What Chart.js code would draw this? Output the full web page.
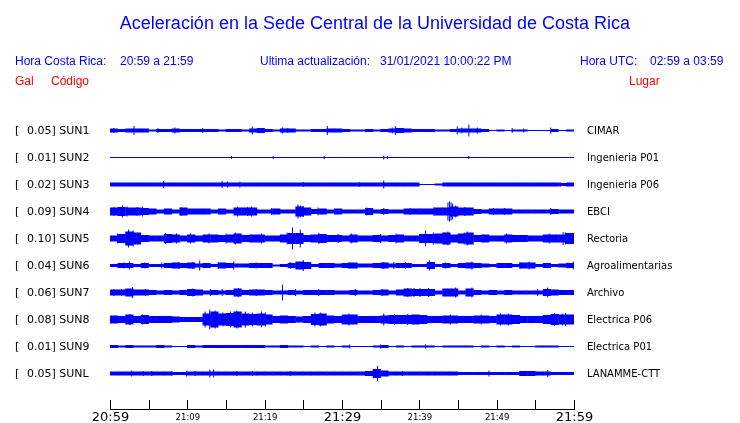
<!DOCTYPE html>
<html lang="es">
<head>
<meta charset="utf-8">
<title>Aceleración UCR</title>
<script src="https://cdn.jsdelivr.net/npm/chart.js@4.4.1/dist/chart.umd.min.js"></script>
<style>
    body { margin: 0; background: #fff; }
    #wrap { position: relative; width: 740px; height: 423px; font-family: "Liberation Sans", Arial, sans-serif; }
    #sismo { position: absolute; left: 0; top: 0; }
    .t { position: absolute; white-space: pre; line-height: 1; }
    .blue { color: #0000ff; font-size: 12px; }
    .red { color: #ff0000; font-size: 12px; }
</style>
</head>
<body>
<div id="wrap">
    <canvas id="sismo" width="740" height="423"></canvas>
    <div class="t" style="left:0;width:750px;text-align:center;top:14px;font-size:18px;color:#0000ff;">Aceleración en la Sede Central de la Universidad de Costa Rica</div>
    <div class="t blue" style="left:15px;top:55px;">Hora Costa Rica:</div>
    <div class="t blue" style="left:120px;top:55px;">20:59 a 21:59</div>
    <div class="t blue" style="left:260px;top:55px;">Ultima actualización:</div>
    <div class="t blue" style="left:380px;top:55px;">31/01/2021 10:00:22 PM</div>
    <div class="t blue" style="left:580px;top:55px;">Hora UTC:</div>
    <div class="t blue" style="left:650px;top:55px;">02:59 a 03:59</div>
    <div class="t red" style="left:15px;top:75px;">Gal</div>
    <div class="t red" style="left:51px;top:75px;">Código</div>
    <div class="t red" style="left:629px;top:75px;">Lugar</div>
</div>
<script>
// Stations (top to bottom)
const codes = ["SUN1", "SUN2", "SUN3", "SUN4", "SUN5", "SUN6", "SUN7", "SUN8", "SUN9", "SUNL"];
const places = ["CIMAR", "Ingenieria P01", "Ingenieria P06", "EBCI", "Rectoria", "Agroalimentarias",
    "Archivo", "Electrica P06", "Electrica P01", "LANAMME-CTT"];
const gal = ["0.05", "0.01", "0.02", "0.09", "0.10", "0.04", "0.06", "0.08", "0.01", "0.05"];

// Time axis: minutes after 20:59
const tickMinutes = [0, 5, 10, 15, 20, 25, 30, 35, 40, 45, 50, 55, 60];
const tickLabels = ["20:59", "", "21:09", "", "21:19", "", "21:29", "", "21:39", "", "21:49", "", "21:59"];
const bigLabels = ["20:59", "21:29", "21:59"];

// Envelope (half amplitude) of each trace, one value per minute
const sun1Band = [2, 1.5, 2, 2, 2, 1, 1.5, 1.5, 2, 1.5, 1.5, 1.5, 1.5, 1.5, 1, 1.5, 1.5, 1, 2, 2.5,
    1.5, 1, 2, 2, 1, 1, 1.5, 1.5, 2, 2, 1.5, 1, 1, 1.5, 1, 1.5, 2, 2.5, 2, 1.5,
    1.5, 1.5, 1, 1, 1.5, 2, 2, 2, 1.5, 0.5, 1, 0.5, 1, 1, 0.5, 0.5, 0.5, 1.5, 0.5, 1];
const sun2Band = [0.5, 0.5, 0.5, 0.5, 0.5, 0.5, 0.5, 0.5, 0.5, 0.5, 0.5, 0.5, 0.5, 0.5, 0.5, 0.5, 0.5, 0.5, 0.5, 0.5,
    0.5, 0.5, 0.5, 0.5, 0.5, 0.5, 0.5, 0.5, 0.5, 0.5, 0.5, 0.5, 0.5, 0.5, 0.5, 0.5, 0.5, 0.5, 0.5, 0.5,
    0.5, 0.5, 0.5, 0.5, 0.5, 0.5, 0.5, 0.5, 0.5, 0.5, 0.5, 0.5, 0.5, 0.5, 0.5, 0.5, 0.5, 0.5, 0.5, 0.5];
const sun3Band = [2, 2, 2, 2, 2, 2, 2, 2, 2, 2, 2, 2, 2, 2, 2, 2, 2, 2, 2, 2,
    2, 2, 2, 2, 2, 2, 2, 2, 2, 2, 2, 2, 2, 2, 2, 2, 2, 2, 2, 2,
    0.5, 0.5, 1, 2, 2, 2, 2, 2, 2, 2, 2, 2, 2, 2, 2, 2, 2, 2, 1.5, 2];
const sun4Band = [4, 4.5, 4, 4, 3.5, 3, 2, 3, 2, 4, 3, 3, 3, 2, 3, 2, 4, 4, 4, 2,
    2, 3, 2, 2, 5, 4, 2.5, 3, 2, 3, 2, 2, 2, 3.5, 2, 2.5, 2, 2, 3, 3,
    3, 3, 4, 4, 5, 4, 4, 2.5, 2, 3, 3, 3, 2, 2, 2, 2, 2, 2.5, 2, 2];
const sun5Band = [3, 4.5, 7, 6, 3.5, 3, 3, 4.5, 4, 3, 4, 3, 4, 4, 3.5, 4, 5, 3.5, 4, 4,
    3, 3, 4, 5.5, 5.5, 3.5, 4, 4.5, 3.5, 3.5, 3, 4, 3, 3, 3.5, 3, 3.5, 4, 3, 3,
    4.5, 4.5, 5, 6, 4, 5, 6, 3.5, 4, 3, 3, 4, 3.5, 3.5, 3, 3, 4, 4, 4, 5.5];
const sun6Band = [1.5, 2.5, 2.5, 1.5, 2.5, 1.5, 1.5, 2.5, 3, 2.5, 3, 2, 2.5, 1.5, 3, 2.5, 2, 2, 2.5, 2.5,
    2.5, 1, 1.5, 2.5, 4, 3.5, 1.5, 2.5, 2.5, 2, 2.5, 3, 2, 2, 2.5, 3, 2, 2.5, 2.5, 1.5,
    1.5, 3.5, 1.5, 2.5, 1.5, 2.5, 3, 2.5, 2, 1.5, 2.5, 2.5, 1.5, 3, 3, 1.5, 2.5, 1.5, 2, 2.5];
const sun7Band = [3, 3, 4, 3, 3, 2.5, 2, 2.5, 2, 2.5, 3.5, 3, 2, 2.5, 2, 2.5, 4, 2.5, 3, 3,
    2.5, 2, 2, 2.5, 2, 2.5, 2.5, 2.5, 2.5, 2, 2, 2.5, 2, 2, 2.5, 3, 2, 3, 4, 3.5,
    3.5, 3.5, 2, 4, 4, 2, 4, 2.5, 2, 2.5, 2, 2.5, 2, 2, 2, 2, 3.5, 3, 2.5, 2.5];
const sun8Band = [4, 3.5, 5, 3.5, 4.5, 3.5, 3.5, 3.5, 3, 2.5, 2.5, 2.5, 6, 8, 6, 6.5, 8, 6, 5.5, 6,
    5, 3.5, 4, 3.5, 3, 3.5, 5.5, 6, 4, 3.5, 5, 5, 3.5, 3.5, 3.5, 4, 4.5, 4.5, 4.5, 5,
    4.5, 3.5, 3.5, 4, 4, 3.5, 3.5, 4, 4, 3.5, 5, 5, 4.5, 3.5, 3.5, 3.5, 4.5, 5.5, 5, 5];
const sun9Band = [1.5, 1, 1.5, 1, 1, 1, 1.5, 1, 0.5, 0.5, 1.5, 1, 1.5, 1.5, 1.5, 1.5, 1.5, 1.5, 1.5, 1.5,
    1, 1, 1.5, 1, 1, 0.5, 1, 0.5, 1, 0.5, 1, 0.5, 0.5, 0.5, 1, 1.5, 0.5, 1, 0.5, 1,
    1, 1, 0.5, 1, 1, 1, 1, 0.5, 1, 0.5, 1, 0.5, 1, 0.5, 0.5, 1, 1, 1, 0.5, 0.5];
const sunlBand = [2, 2, 2, 2, 2, 2, 2, 2, 1.5, 1.5, 2, 2, 2, 2, 2, 2, 2, 2, 2, 2,
    2, 2, 2, 2, 2, 2, 2, 2, 2, 2, 2, 2, 2, 2.5, 4.5, 3, 2, 2, 2, 2,
    2, 2, 2, 2, 2, 1.5, 1.5, 1.5, 1.5, 1.5, 1.5, 1.5, 1.5, 2.5, 2.5, 2, 2, 1.5, 1.5, 1.5];

// Isolated peaks: [minute, half amplitude]
const sun1Spikes = [[0.5, 2.5], [3.1, 4.5], [6.2, 2.5], [8.4, 3], [12, 2.5], [18.4, 4], [22.3, 3], [23, 2.5],
    [28.1, 4.5], [36.5, 3], [36.9, 4.5], [44.9, 4], [45.5, 3], [46.4, 6], [47.5, 3], [52, 2.5], [53.5, 2], [57, 3]];
const sun2Spikes = [[15.7, 1.5], [21.1, 1.5], [27.7, 1.5], [35.4, 2], [35.9, 1.5], [46.4, 1.5]];
const sun3Spikes = [[6.9, 3.5], [14.5, 3.5], [15.2, 3], [16.8, 3], [25, 2.5], [32.3, 2.5], [35.4, 4], [58.2, 2.5]];
const sun4Spikes = [[0.5, 4.5], [1.6, 6], [2.2, 5], [3.5, 4.5], [4.2, 5], [9.2, 4.5], [16.5, 5], [17.8, 4.5],
    [18.3, 5], [20.9, 3.5], [24.3, 7], [24.6, 6], [25, 5.5], [26.9, 4], [33.2, 4], [35.4, 3.5], [38.8, 3.5],
    [41.9, 4.5], [43.7, 9], [43.9, 10], [44.1, 9], [44.3, 8], [44.7, 6], [45.9, 4.5], [49.6, 3.5], [51, 3.5], [57, 3.5]];
const sun5Spikes = [[1, 5], [2.4, 9], [3, 8], [7.2, 5.5], [8.6, 5], [10.4, 5], [12.8, 5], [15, 5], [16.2, 6],
    [19.6, 5], [22.9, 6], [23.6, 11], [24.6, 9], [27, 5.5], [29.5, 4.5], [31.2, 5], [35, 4.5], [37, 5],
    [40.8, 8], [41.8, 6], [43.2, 6], [43.7, 7], [45.8, 6], [46.2, 7], [51.3, 5], [56.8, 5], [58.6, 6.5], [58.9, 6]];
const sun6Spikes = [[1.8, 3], [2.5, 4], [4.5, 3], [6.7, 3], [8.9, 3.5], [10.7, 3.5], [11.6, 5], [14, 3.5], [16, 4],
    [18.9, 3], [23.3, 3.5], [25, 5.5], [30.9, 3.5], [35.4, 3.5], [36.7, 3.5], [38.2, 3.5], [41.3, 5], [43.4, 3],
    [46.8, 4], [53, 3.5], [54.2, 4], [59.2, 3], [59.9, 4]];
const sun7Spikes = [[0.5, 3.5], [1.5, 3.5], [2.9, 5.5], [4.6, 3.5], [10.7, 4], [13, 3.5], [14.5, 3.5], [16.6, 4.5],
    [18.9, 3.5], [22.3, 8], [24, 3.5], [27, 3.5], [31.7, 3.5], [35.2, 3.5], [38.5, 4.5], [39.3, 4.5], [40.1, 4.5],
    [41.2, 4.5], [44.7, 5], [46.8, 5], [55.3, 3.5], [56.6, 5]];
const sun8Spikes = [[2.6, 5.5], [4.2, 5], [12.3, 8], [12.9, 10], [13.6, 9], [14.6, 7], [15.6, 8], [16.4, 9], [17.5, 8],
    [18.4, 7], [19.6, 8], [20.1, 7], [26.5, 7], [27.2, 7], [30.9, 6], [35.4, 6], [36.8, 5.5], [38.5, 5.5], [44, 5],
    [48, 5], [50.5, 6], [51.5, 6], [57.5, 6.5], [58.5, 6], [58.9, 6.5]];
const sun9Spikes = [[31, 2], [35, 2], [40.8, 2]];
const sunlSpikes = [[2.8, 3], [4.3, 2.5], [5.4, 2.5], [8, 2.5], [9.9, 3], [11, 2.5], [12.9, 4], [13.4, 4], [16.4, 2.5],
    [18.4, 2.5], [23.3, 2.5], [34.6, 7.5], [37.8, 2.5], [49, 3], [53, 2.5], [56.6, 3.5]];

const bands = [sun1Band, sun2Band, sun3Band, sun4Band, sun5Band, sun6Band, sun7Band, sun8Band, sun9Band, sunlBand];
const spikes = [sun1Spikes, sun2Spikes, sun3Spikes, sun4Spikes, sun5Spikes, sun6Spikes, sun7Spikes, sun8Spikes, sun9Spikes, sunlSpikes];

const SLOT = 27; // vertical distance between traces
const TRACE = "#0000ff";

// Build datasets: envelope bars on axis x, narrow peaks on axis xs
const datasets = [];
codes.forEach((code, i) => {
    const mid = i * SLOT;
    datasets.push({
        label: code,
        data: bands[i].map((a, m) => ({ x: m + 0.5, y: [mid - a, mid + a] })),
        backgroundColor: TRACE,
        borderWidth: 0,
        grouped: false,
        categoryPercentage: 1,
        barPercentage: 1.06,
        inflateAmount: 0,
        xAxisID: "x",
    });
    datasets.push({
        label: code + " picos",
        data: spikes[i].map(([m, a]) => ({ x: m, y: [mid - a, mid + a] })),
        backgroundColor: TRACE,
        borderWidth: 0,
        grouped: false,
        barThickness: 1,
        inflateAmount: 0,
        xAxisID: "xs",
    });
});

// Station labels at both sides of each trace
const traceLabels = {
    id: "traceLabels",
    afterDraw(chart) {
        const { ctx } = chart;
        const y = chart.scales.y;
        ctx.save();
        ctx.fillStyle = "#000";
        ctx.textBaseline = "middle";
        codes.forEach((code, i) => {
            const py = y.getPixelForValue(i * SLOT) + 0.5;
            ctx.font = "11px 'DejaVu Sans'";
            ctx.fillText("[", 15, py);
            ctx.fillText(gal[i] + "] " + code, 27, py);
            ctx.font = "10px 'DejaVu Sans'";
            ctx.fillText(places[i], 587, py);
        });
        ctx.restore();
    },
};

// Time axis drawn under the traces with upward ticks
const timeAxis = {
    id: "timeAxis",
    afterDraw(chart) {
        const { ctx, chartArea } = chart;
        const x = chart.scales.x;
        const base = chartArea.bottom;
        ctx.save();
        ctx.strokeStyle = "#000";
        ctx.lineWidth = 1;
        ctx.beginPath();
        ctx.moveTo(x.getPixelForValue(tickMinutes[0]), base + 0.5);
        ctx.lineTo(x.getPixelForValue(tickMinutes[tickMinutes.length - 1]) + 1, base + 0.5);
        tickMinutes.forEach((m) => {
            const px = Math.round(x.getPixelForValue(m)) + 0.5;
            ctx.moveTo(px, base + 0.5);
            ctx.lineTo(px, base - 9);
        });
        ctx.stroke();
        ctx.fillStyle = "#000";
        ctx.textAlign = "center";
        ctx.textBaseline = "alphabetic";
        tickMinutes.forEach((m, k) => {
            const text = tickLabels[k];
            if (!text) return;
            const big = bigLabels.includes(text);
            ctx.font = big ? "13px 'DejaVu Sans'" : "8.5px 'DejaVu Sans'";
            ctx.fillText(text, x.getPixelForValue(m) + 0.5, big ? base + 12 : base + 10.5);
        });
        ctx.restore();
    },
};

const ctx = document.getElementById("sismo").getContext("2d");
const chart = new Chart(ctx, {
    type: "bar",
    data: { datasets },
    options: {
        responsive: false,
        devicePixelRatio: 1,
        animation: false,
        layout: { padding: { left: 110, right: 166, top: 117, bottom: 14 } },
        plugins: {
            legend: { display: false },
            tooltip: { enabled: false },
        },
        scales: {
            x: { type: "linear", min: 0, max: 60, offset: false, display: false },
            xs: { type: "linear", min: 0, max: 60, offset: false, display: false },
            y: { type: "linear", min: -13.5, max: 278.5, reverse: true, display: false },
        },
    },
    plugins: [traceLabels, timeAxis],
});
</script>
</body>
</html>
